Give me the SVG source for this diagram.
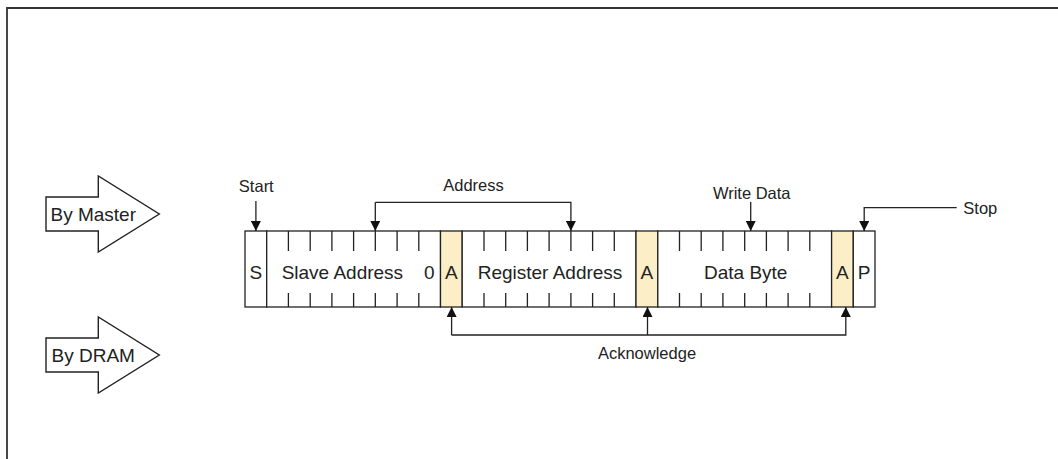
<svg xmlns="http://www.w3.org/2000/svg" width="1058" height="459" viewBox="0 0 1058 459">
<defs>
<style>
.frame{fill:none;stroke:#333;stroke-width:1.8}
.big{fill:#fff;stroke:#222;stroke-width:1.4;stroke-linejoin:miter}
.cell{fill:#fff;stroke:#222;stroke-width:1.3}
.ack{fill:#fcefc8;stroke:#222;stroke-width:1.3}
.tick{stroke:#222;stroke-width:1.3}
.conn{fill:none;stroke:#222;stroke-width:1.3}
.t19{font-family:"Liberation Sans",Arial,sans-serif;font-size:19px;fill:#222}
.t16{font-family:"Liberation Sans",Arial,sans-serif;font-size:16.5px;fill:#222}
</style>
<marker id="ah" viewBox="0 0 10 10" refX="10" refY="5" markerWidth="10" markerHeight="10" markerUnits="userSpaceOnUse" orient="auto">
<path d="M0,0 L10,5 L0,10 z" fill="#111"/>
</marker>
</defs>
<rect width="1058" height="459" fill="#fff"/>
<path class="frame" d="M7,459 V8 H1058"/>

<g id="by-master">
<polygon class="big" points="46,197 98.3,197 98.3,176 159.3,214 98.3,252 98.3,231 46,231"/>
<text class="t19" x="50.5" y="220.5">By Master</text>
</g>
<g id="by-dram">
<polygon class="big" points="46,338 98.3,338 98.3,317 159.3,355 98.3,393 98.3,372 46,372"/>
<text class="t19" x="51.5" y="361.5">By DRAM</text>
</g>

<g id="field-start">
<rect class="cell" x="245" y="231" width="21.7" height="76"/>
<text class="t19" x="255.9" y="279" text-anchor="middle">S</text>
</g>
<g id="field-slave-address">
<rect class="cell" x="266.7" y="231" width="173.8" height="76"/>
<path class="tick" d="M288.4,231V251M310.2,231V251M331.9,231V251M353.6,231V251M375.3,231V251M397.1,231V251M418.8,231V251M288.4,293V307M310.2,293V307M331.9,293V307M353.6,293V307M375.3,293V307M397.1,293V307M418.8,293V307"/>
<text class="t19" x="342.4" y="279" text-anchor="middle">Slave Address</text>
<text class="t19" x="429.2" y="279" text-anchor="middle">0</text>
</g>
<g id="field-ack-1">
<rect class="ack" x="440.5" y="231" width="21.7" height="76"/>
<text class="t19" x="451.4" y="279" text-anchor="middle">A</text>
</g>
<g id="field-register-address">
<rect class="cell" x="462.2" y="231" width="173.8" height="76"/>
<path class="tick" d="M484,231V251M505.7,231V251M527.4,231V251M549.1,231V251M570.9,231V251M592.6,231V251M614.3,231V251M484,293V307M505.7,293V307M527.4,293V307M549.1,293V307M570.9,293V307M592.6,293V307M614.3,293V307"/>
<text class="t19" x="550" y="279" text-anchor="middle">Register Address</text>
</g>
<g id="field-ack-2">
<rect class="ack" x="636" y="231" width="21.8" height="76"/>
<text class="t19" x="646.9" y="279" text-anchor="middle">A</text>
</g>
<g id="field-data-byte">
<rect class="cell" x="657.8" y="231" width="173.8" height="76"/>
<path class="tick" d="M679.5,231V251M701.2,231V251M722.9,231V251M744.7,231V251M766.4,231V251M788.1,231V251M809.8,231V251M679.5,293V307M701.2,293V307M722.9,293V307M744.7,293V307M766.4,293V307M788.1,293V307M809.8,293V307"/>
<text class="t19" x="745.7" y="279" text-anchor="middle">Data Byte</text>
</g>
<g id="field-ack-3">
<rect class="ack" x="831.6" y="231" width="21.7" height="76"/>
<text class="t19" x="842.4" y="279" text-anchor="middle">A</text>
</g>
<g id="field-stop">
<rect class="cell" x="853.3" y="231" width="21.7" height="76"/>
<text class="t19" x="864.1" y="279" text-anchor="middle">P</text>
</g>

<g id="label-start"><text class="t16" x="256.3" y="191.5" text-anchor="middle">Start</text></g>
<g id="label-address"><text class="t16" x="473.5" y="191" text-anchor="middle">Address</text></g>
<g id="label-write-data"><text class="t16" x="751.7" y="199" text-anchor="middle">Write Data</text></g>
<g id="label-stop"><text class="t16" x="963.3" y="214">Stop</text></g>
<g id="label-acknowledge"><text class="t16" x="647" y="359" text-anchor="middle">Acknowledge</text></g>

<g id="connectors">
<path class="conn" d="M255.9,201V231" marker-end="url(#ah)"/>
<path class="conn" d="M375.3,202.3V231" marker-end="url(#ah)"/>
<path class="conn" d="M375.3,202.3H570.9V231" marker-end="url(#ah)"/>
<path class="conn" d="M750.7,202V231" marker-end="url(#ah)"/>
<path class="conn" d="M956.7,207.7H864.2V231" marker-end="url(#ah)"/>
<path class="conn" d="M451.6,335V307" marker-end="url(#ah)"/>
<path class="conn" d="M451.6,335H845.8V307" marker-end="url(#ah)"/>
<path class="conn" d="M647.5,335V307" marker-end="url(#ah)"/>
</g>
</svg>
